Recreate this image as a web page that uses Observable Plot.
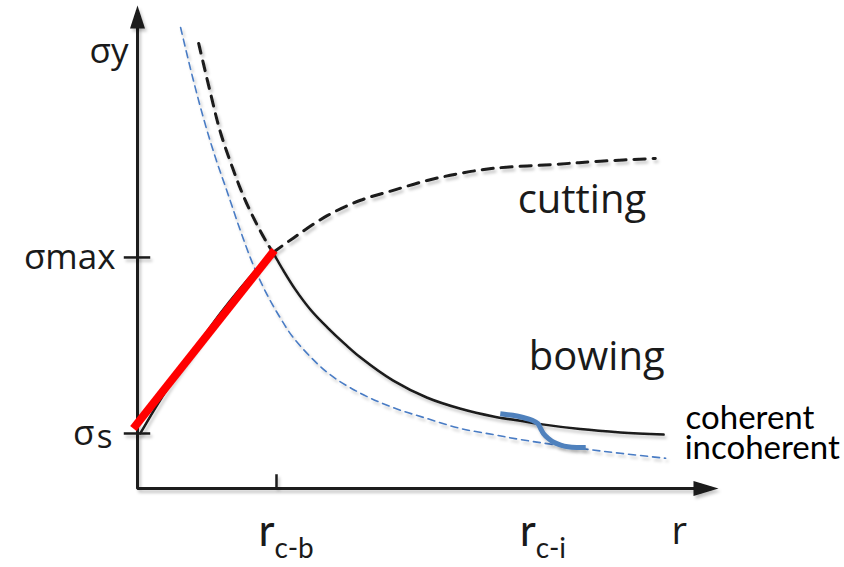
<!DOCTYPE html>
<html>
<head>
<meta charset="utf-8">
<script src="https://cdn.jsdelivr.net/npm/d3@7"></script>
<script src="https://cdn.jsdelivr.net/npm/@observablehq/plot@0.6"></script>
<style>
  html, body { margin: 0; padding: 0; background: #fff; }
  #chart { width: 844px; height: 567px; overflow: hidden; }
</style>
</head>
<body>
<div id="chart"></div>
<script>
// Yield stress σy versus precipitate radius r: particle cutting vs. Orowan bowing,
// for coherent and incoherent precipitates.

// Axis extents (schematic units)
const rMax = 8.36;
const sMax = 8.78;

// Characteristic radii and stresses
const rCB = 2.0;      // cutting -> bowing transition
const rCI = 5.76;     // coherent -> incoherent transition
const sigmaS = 1.0;   // σs
const sigmaMax = 4.2; // σmax

// Coherent cutting branch (solid, rising to the peak)
const cutSolidR = [0.04, 0.26, 0.47, 0.69, 0.91, 1.19, 1.48, 1.73, 1.95];
const cutSolidS = [1.00, 1.47, 1.89, 2.29, 2.69, 3.18, 3.64, 4.00, 4.29];

// Cutting branch continued past the peak (dashed)
const cutDashR = [1.95, 2.25, 2.73, 3.21, 3.68, 4.17, 4.65, 5.12, 5.99, 6.66, 7.45];
const cutDashS = [4.29, 4.56, 4.96, 5.24, 5.42, 5.60, 5.73, 5.82, 5.89, 5.95, 6.00];

// Coherent bowing branch before the peak (dashed)
const bowDashR = [0.88, 1.04, 1.19, 1.37, 1.54, 1.71, 1.87, 1.95];
const bowDashS = [8.09, 7.24, 6.49, 5.82, 5.27, 4.82, 4.45, 4.29];

// Coherent bowing branch after the peak (solid)
const bowSolidR = [1.95, 2.10, 2.27, 2.49, 2.73, 2.99, 3.21, 3.68, 4.17, 4.65, 5.12, 5.51, 5.80, 6.37, 6.95, 7.57];
const bowSolidS = [4.29, 3.96, 3.62, 3.25, 2.93, 2.62, 2.38, 1.96, 1.65, 1.45, 1.31, 1.23, 1.17, 1.08, 1.02, 0.98];

// Incoherent bowing (blue dashed)
const incohR = [0.62, 0.79, 0.95, 1.12, 1.30, 1.48, 1.67, 1.87, 2.06, 2.25, 2.73, 3.21, 3.68, 4.17, 4.65, 5.12, 5.51, 6.37, 6.95, 7.60];
const incohS = [8.38, 7.49, 6.73, 6.02, 5.36, 4.69, 4.05, 3.51, 3.09, 2.73, 2.11, 1.73, 1.47, 1.27, 1.09, 0.98, 0.89, 0.73, 0.64, 0.55];

// Coherent -> incoherent switch (thick blue)
const switchR = [5.22, 5.40, 5.55, 5.68, 5.76, 5.80, 5.84, 5.91, 5.99, 6.09, 6.19, 6.32, 6.45];
const switchS = [1.36, 1.33, 1.29, 1.24, 1.18, 1.09, 1.00, 0.91, 0.84, 0.79, 0.76, 0.745, 0.745];

// Linear strengthening approximation (red)
const linearR = [-0.06, 1.97];
const linearS = [1.09, 4.33];

// Tick labels
const sigmaTickValues = [sigmaMax, sigmaS];
const rTickValues = [rCB, rCI];
const rTickMain = ["r", "r"];
const rTickSub = ["c-b", "c-i"];

// Regime annotations
const regimeText = ["cutting", "bowing"];
const regimeR = [5.47, 5.63];
const regimeS = [5.00, 2.15];

const pts = (rs, ss) => rs.map((r, i) => ({r, s: ss[i]}));

const cutSolid = pts(cutSolidR, cutSolidS);
const cutDash = pts(cutDashR, cutDashS);
const bowDash = pts(bowDashR, bowDashS);
const bowSolid = pts(bowSolidR, bowSolidS);
const incoh = pts(incohR, incohS);
const switchCurve = pts(switchR, switchS);
const rTicks = rTickValues.map((r, i) => ({r, main: rTickMain[i], sub: rTickSub[i]}));
const regimes = regimeText.map((t, i) => ({t, r: regimeR[i], s: regimeS[i]}));

// Axis polyline and filled arrow heads
const axisPath = [{r: 0, s: sMax - 0.3}, {r: 0, s: 0}, {r: rMax - 0.3, s: 0}];
const arrowUp = {draw(ctx) { ctx.moveTo(0, 0); ctx.lineTo(7.5, 23); ctx.lineTo(-7.5, 23); ctx.closePath(); }};
const arrowRight = {draw(ctx) { ctx.moveTo(0, 0); ctx.lineTo(-25, -7.5); ctx.lineTo(-25, 7.5); ctx.closePath(); }};

const ink = "#1a1a1a";
const sans = "'Open Sans', sans-serif";
const labelFont = "Lato, sans-serif";

const chart = Plot.plot({
  width: 844,
  height: 567,
  marginLeft: 137,
  marginRight: 126,
  marginTop: 5,
  marginBottom: 79,
  x: {domain: [0, rMax], axis: null},
  y: {domain: [0, sMax], axis: null},
  style: {background: "#fff", overflow: "visible"},
  marks: [
    // axes
    Plot.line(axisPath, {x: "r", y: "s", stroke: ink, strokeWidth: 3, strokeLinejoin: "miter"}),
    Plot.dot([{r: 0, s: sMax}], {x: "r", y: "s", symbol: arrowUp, fill: ink, stroke: "none"}),
    Plot.dot([{r: rMax, s: 0}], {x: "r", y: "s", symbol: arrowRight, fill: ink, stroke: "none"}),
    Plot.ruleY(sigmaTickValues, {y: d => d, x1: -0.19, x2: 0.19, stroke: ink, strokeWidth: 2.5}),
    Plot.ruleX([rCB], {x: d => d, y1: 0, y2: 0.25, stroke: ink, strokeWidth: 2.5}),

    // curves
    Plot.line(incoh, {x: "r", y: "s", curve: "catmull-rom", stroke: "#4a7cc4", strokeWidth: 1.6, strokeDasharray: "7,5"}),
    Plot.line(cutDash, {x: "r", y: "s", curve: "catmull-rom", stroke: ink, strokeWidth: 3, strokeDasharray: "11,8"}),
    Plot.line(bowDash, {x: "r", y: "s", curve: "catmull-rom", stroke: ink, strokeWidth: 3, strokeDasharray: "10,8"}),
    Plot.line(cutSolid, {x: "r", y: "s", curve: "catmull-rom", stroke: ink, strokeWidth: 2.5}),
    Plot.line(bowSolid, {x: "r", y: "s", curve: "catmull-rom", stroke: ink, strokeWidth: 2.5}),
    Plot.line(switchCurve, {x: "r", y: "s", curve: "catmull-rom", stroke: "#4f81bd", strokeWidth: 5, strokeLinecap: "butt"}),
    Plot.link([0], {x1: () => linearR[0], y1: () => linearS[0], x2: () => linearR[1], y2: () => linearS[1], stroke: "#ff0000", strokeWidth: 8, strokeLinecap: "butt"}),

    // y tick labels
    Plot.text([sMax], {x: 0, y: d => d, text: () => "σy", textAnchor: "end", lineAnchor: "bottom", dx: -9, dy: 57, fontSize: 35, fontFamily: sans, fill: ink}),
    Plot.text([sigmaMax], {x: 0, y: d => d, text: () => "σmax", textAnchor: "end", lineAnchor: "middle", dx: -22, fontSize: 35, fontFamily: sans, fill: ink}),
    Plot.text([sigmaS], {x: 0, y: d => d, text: () => "σ", textAnchor: "end", lineAnchor: "middle", dx: -43, fontSize: 35, fontFamily: sans, fill: ink}),
    Plot.text([sigmaS], {x: 0, y: d => d, text: () => "s", textAnchor: "end", lineAnchor: "middle", dx: -25, dy: 4, fontSize: 33, fontFamily: sans, fill: ink}),

    // x tick labels
    Plot.text(rTicks, {x: "r", y: 0, text: "main", textAnchor: "end", lineAnchor: "bottom", dx: -2, dy: 57, fontSize: 44, fontFamily: labelFont, fill: ink}),
    Plot.text(rTicks, {x: "r", y: 0, text: "sub", textAnchor: "start", lineAnchor: "bottom", dx: -2, dy: 69, fontSize: 28, fontFamily: labelFont, fill: ink}),
    Plot.text([rMax], {x: d => d, y: 0, text: () => "r", textAnchor: "start", lineAnchor: "bottom", dx: -47, dy: 55, fontSize: 38, fontFamily: sans, fill: ink}),

    // regime annotations
    Plot.text(regimes, {x: "r", y: "s", text: "t", textAnchor: "start", lineAnchor: "bottom", fontSize: 40, fontFamily: sans, fill: ink}),
    Plot.text([bowSolid[bowSolid.length - 1]], {x: "r", y: "s", text: () => "coherent", textAnchor: "start", lineAnchor: "bottom", dx: 22, dy: -5.5, fontSize: 33, fontFamily: labelFont, fill: "#000"}),
    Plot.text([incoh[incoh.length - 1]], {x: "r", y: "s", text: () => "incoherent", textAnchor: "start", lineAnchor: "bottom", dx: 19, dy: 0.5, fontSize: 33, fontFamily: labelFont, fill: "#000"})
  ]
});

// soft drop shadow under the line work
const ns = "http://www.w3.org/2000/svg";
const defs = document.createElementNS(ns, "defs");
defs.innerHTML = '<filter id="soft-shadow" filterUnits="userSpaceOnUse" x="0" y="0" width="844" height="567">' +
  '<feDropShadow dx="2" dy="3" stdDeviation="1.5" flood-color="#000" flood-opacity="0.22"/></filter>';
chart.prepend(defs);
chart.querySelectorAll('g[aria-label="line"], g[aria-label="rule"], g[aria-label="dot"]')
  .forEach(g => g.setAttribute("filter", "url(#soft-shadow)"));

document.getElementById("chart").append(chart);
</script>
</body>
</html>
